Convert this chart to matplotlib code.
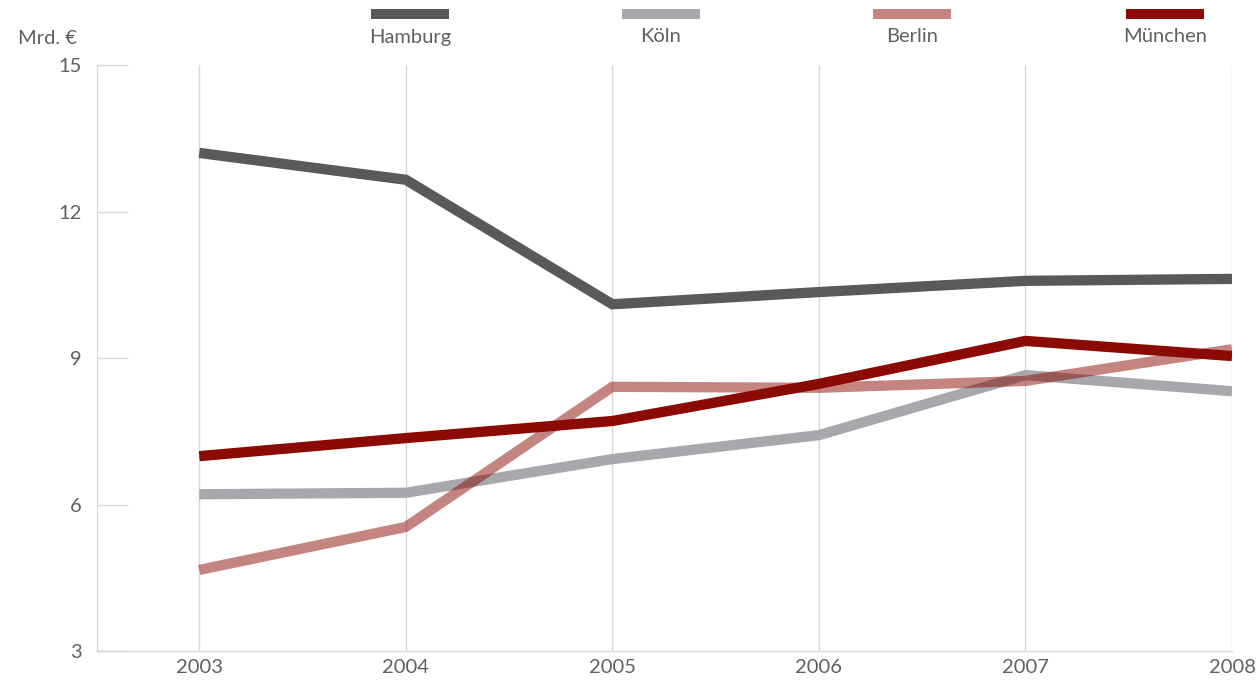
import numpy as np
import matplotlib
matplotlib.use('Agg')
import matplotlib.pyplot as plt

years = [2003, 2004, 2005, 2006, 2007, 2008]
hamburg = [13.2, 12.65, 10.1, 10.35, 10.58, 10.62]
koeln = [6.21, 6.24, 6.93, 7.42, 8.65, 8.32]
berlin = [4.66, 5.54, 8.41, 8.39, 8.53, 9.18]
muenchen = [6.99, 7.36, 7.71, 8.47, 9.35, 9.04]

series = [('Hamburg', hamburg, '#58595b', 1.0),
          ('Köln', koeln, '#a7a8ac', 1.0),
          ('Berlin', berlin, '#8b0a03', 0.5),
          ('München', muenchen, '#8b0a03', 1.0)]
y_ticks = [3, 6, 9, 12, 15]

plt.rcParams['font.family'] = ['Lato', 'DejaVu Sans']
txt = '#606060'
grid = '#d8d8d8'
fs = 14.5

fig = plt.figure(figsize=(12.57, 6.86), dpi=100)
ax = fig.add_axes([97/1257, 35/686, (1232-97)/1257, (651-65)/686])

for name, vals, col, a in series:
    ax.plot(years, vals, color=col, alpha=a, lw=7.4,
            solid_capstyle='butt', solid_joinstyle='miter', zorder=3)

ax.set_xlim(2002.505, 2008)
ax.set_ylim(3, 15)
ax.set_xticks(years)
ax.set_yticks(y_ticks)
ax.grid(axis='x', color=grid, lw=1)
for s in ['top', 'right']:
    ax.spines[s].set_visible(False)
for s in ['left', 'bottom']:
    ax.spines[s].set_color(grid)
    ax.spines[s].set_linewidth(1)
ax.tick_params(axis='y', direction='in', length=22, color=grid, width=1,
               labelsize=fs, labelcolor=txt, pad=11)
ax.tick_params(axis='x', length=0, labelsize=fs, labelcolor=txt, pad=6)

fig.text(18/1257, 1 - 38/686, 'Mrd. €', ha='left', va='center',
         fontsize=fs, color=txt)

# legend: colour bar with name underneath
centers = [410, 661, 912, 1165]
for (name, vals, col, a), cx in zip(series, centers):
    fig.add_artist(plt.Line2D([(cx-39)/1257, (cx+39)/1257], [1-14/686, 1-14/686],
                              color=col, alpha=a, lw=7.2,
                              solid_capstyle='butt', transform=fig.transFigure))
    fig.text(cx/1257, 1-37/686, name, ha='center', va='center',
             fontsize=fs, color=txt)

plt.savefig('out.png', dpi=100)
